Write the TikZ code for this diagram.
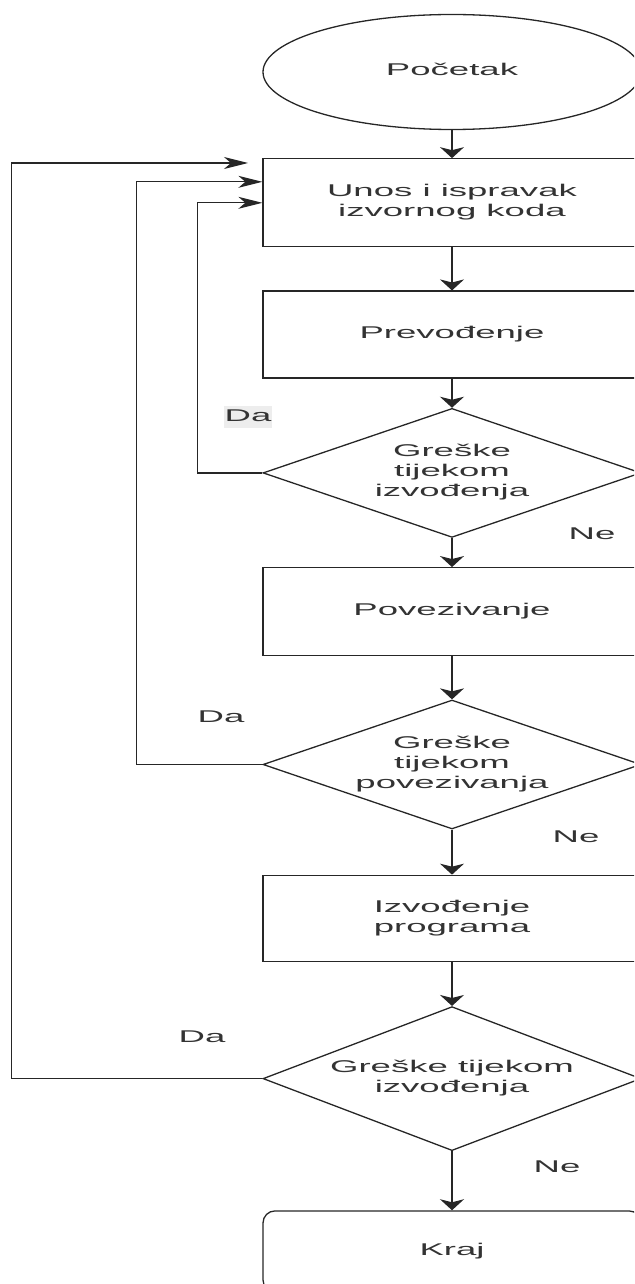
\documentclass[tikz,border=0pt]{standalone}
\usepackage{fontspec}
\usepackage{graphicx}
\setmainfont{Liberation Sans}
\usetikzlibrary{positioning,shapes.geometric,arrows.meta}

% sirok tekst kao na slici
\newcommand{\wtext}[1]{\scalebox{2.15}[1]{\begin{tabular}{@{}c@{}}#1\end{tabular}}}

\begin{document}
\begin{tikzpicture}[x=1pt,y=-1pt,
	every node/.style={font=\fontsize{17}{20}\selectfont, text=black!80},
	block/.style={draw=black!85, line width=1.3pt, minimum width=378pt, inner sep=0pt},
	test/.style={diamond, draw=black!85, line width=1.3pt, minimum width=378pt, inner sep=0pt},
	vtip/.style={draw=black!85, line width=1.3pt, -{Stealth[length=11pt,width=24pt,inset=3pt]}},
	htip/.style={draw=black!85, line width=1.3pt, -{Stealth[length=24pt,width=12pt,inset=7pt]}}]
	
	\useasboundingbox (0,0) rectangle (634,1284);
	\clip (0,0) rectangle (634,1284);
	
	\node[block, ellipse, minimum height=115pt] (start) at (452,72) {\wtext{Početak}};
	\node[block, minimum height=88pt, below=28pt of start] (unos) {\wtext{Unos i ispravak\\izvornog koda}};
	\node[block, minimum height=87pt, below=43pt of unos] (prev) {\wtext{Prevođenje}};
	\node[test, aspect=2.9, minimum height=129pt, below=29pt of prev] (d1) {\wtext{Greške\\tijekom\\izvođenja}};
	\node[block, minimum height=88pt, below=29pt of d1] (povez) {\wtext{Povezivanje}};
	\node[test, aspect=2.9, minimum height=129pt, below=43pt of povez] (d2) {\wtext{Greške\\tijekom\\povezivanja}};
	\node[block, minimum height=86pt, below=45pt of d2] (izv) {\wtext{Izvođenje\\programa}};
	\node[test, aspect=2.6, minimum height=144pt, below=44pt of izv] (d3) {\wtext{Greške tijekom\\izvođenja}};
	\node[block, rounded corners=12pt, minimum height=81pt, below=59pt of d3] (kraj) {\wtext{Kraj}};
	
	% labels
	\node[fill=black!7, inner sep=1pt] (da1) at (248,417) {\wtext{Da}};
	\node (da2) at (221,718) {\wtext{Da}};
	\node (da3) at (202,1038) {\wtext{Da}};
	\node (ne1) at (592,535) {\wtext{Ne}};
	\node (ne2) at (576,838) {\wtext{Ne}};
	\node (ne3) at (557,1168) {\wtext{Ne}};
	
	\draw[vtip] (start) -- (unos);
	\draw[vtip] (unos) -- (prev);
	\draw[vtip] (prev) -- (d1);
	\draw[vtip] (d1) -- (povez);
	\draw[vtip] (povez) -- (d2);
	\draw[vtip] (d2) -- (izv);
	\draw[vtip] (izv) -- (d3);
	\draw[vtip] (d3) -- (kraj);
	
	% povratne grane
	\coordinate (back3) at (248,163);
	\draw[htip] (d1.west) -- ++(-65,0) |- (unos.west);
	\draw[htip] (d2.west) -- ++(-126,0) |- ([yshift=21pt]unos.west);
	\draw[htip] (d3.west) -- ++(-251,0) |- (back3);
\end{tikzpicture}
\end{document}
